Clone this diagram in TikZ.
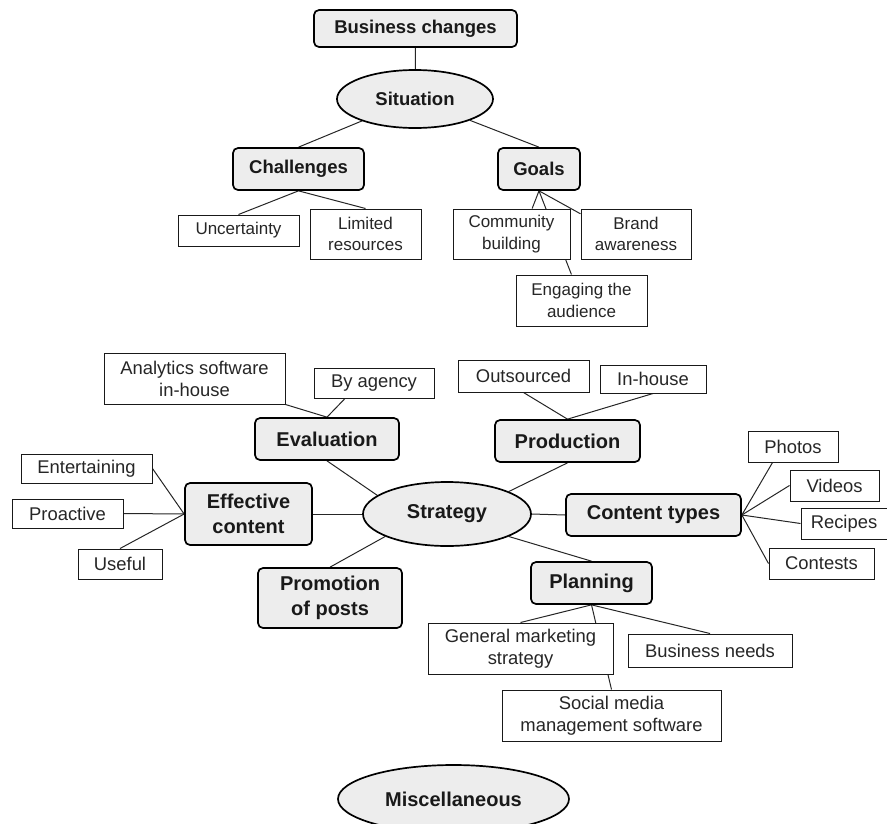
\documentclass[tikz,border=0pt]{standalone}
\usepackage{fontspec}
\setmainfont{Liberation Sans}
\usepackage{tikz}
\usetikzlibrary{shapes,backgrounds}
\definecolor{boxgray}{gray}{0.93}
\newcommand{\leaffont}{\fontsize{18.4}{22}\selectfont}
\newcommand{\leafsmall}{\fontsize{17}{21.5}\selectfont}
\newcommand{\topicfont}{\bfseries\fontsize{20}{24.5}\selectfont}
\newcommand{\topicsmall}{\bfseries\fontsize{18.5}{23}\selectfont}

\begin{document}
\begin{tikzpicture}[x=1pt,y=-1pt]
\tikzstyle{topic}=[rectangle, rounded corners=5pt, line width=1.7pt, draw=black, fill=boxgray, inner sep=0pt, align=center, font=\topicfont, text=black!90]
\tikzstyle{hub}=[ellipse, line width=1.7pt, draw=black, fill=boxgray, inner sep=0pt, font=\topicfont, text=black!90]
\tikzstyle{leaf}=[rectangle, line width=1pt, draw=black!90, fill=white, inner sep=0pt, align=center, font=\leaffont, text=black!85]
\tikzstyle{connect}=[line width=1pt, draw=black!85]
\useasboundingbox (0,0) rectangle (887,823);
	% situation
	\node[topic, font=\topicsmall, minimum width=203, minimum height=37] (bc) at (415.5,28.5) {Business changes};
	\node[hub, font=\topicsmall, minimum width=156, minimum height=58] (sit) at (415,99) {Situation};
	\node[topic, font=\topicsmall, minimum width=131, minimum height=42] (chal) at (298.5,169) {Challenges};
	\node[topic, font=\topicsmall, minimum width=82, minimum height=42] (goal) at (539,169) {Goals};
	\node[leaf, font=\leafsmall, minimum width=121, minimum height=31] (ch_1) at (238.5,230.5) {Uncertainty};
	\node[leaf, font=\leafsmall, minimum width=111, minimum height=50] (ch_2) at (365.5,234) {Limited\\resources};
	\node[leaf, font=\leafsmall, minimum width=117, minimum height=50] (g_1) at (511.5,234) {Community\\building};
	\node[leaf, font=\leafsmall, minimum width=110, minimum height=50] (g_2) at (636,234) {Brand\\awareness};
	\node[leaf, font=\leafsmall, minimum width=131, minimum height=51] (g_3) at (581.5,300.5) {Engaging the\\audience};

	% strategy
	\node[hub, minimum width=168, minimum height=64] (strat) at (447,514) {Strategy};
	\node[topic, minimum width=144, minimum height=42] (eval) at (327,439) {Evaluation};
	\node[leaf, minimum width=181, minimum height=51] (ev_1) at (194.5,378.5) {Analytics software\\in-house};
	\node[leaf, minimum width=120, minimum height=30] (ev_2) at (374,383) {By agency};
	\node[topic, minimum width=127, minimum height=62] (eff) at (248.5,514) {Effective\\content};
	\node[leaf, minimum width=131, minimum height=29] (ef_1) at (86.5,468.5) {Entertaining};
	\node[leaf, minimum width=111, minimum height=29] (ef_2) at (67.5,513.5) {Proactive};
	\node[leaf, minimum width=84, minimum height=30] (ef_3) at (120,564) {Useful};
	\node[topic, minimum width=144, minimum height=60] (promo) at (330,598) {Promotion\\of posts};
	\node[topic, minimum width=145, minimum height=42] (prod) at (567.5,441) {Production};
	\node[leaf, minimum width=131, minimum height=32] (pr_1) at (523.5,376) {Outsourced};
	\node[leaf, minimum width=106, minimum height=28] (pr_2) at (653,379) {In-house};
	\node[topic, minimum width=175, minimum height=42] (ctype) at (653.5,515) {Content types};
	\node[leaf, minimum width=90, minimum height=31] (ct_1) at (793,446.5) {Photos};
	\node[leaf, minimum width=89, minimum height=31] (ct_2) at (834.5,485.5) {Videos};
	\node[leaf, minimum width=86, minimum height=31] (ct_3) at (844,523.5) {Recipes};
	\node[leaf, minimum width=105, minimum height=31] (ct_4) at (821.5,563.5) {Contests};
	\node[topic, minimum width=121, minimum height=42] (plan) at (591.5,583) {Planning};
	\node[leaf, minimum width=185, minimum height=51] (pl_1) at (520.5,648.5) {General marketing\\strategy};
	\node[leaf, minimum width=164, minimum height=33] (pl_2) at (710,650.5) {Business needs};
	\node[leaf, minimum width=219, minimum height=51] (pl_3) at (611.5,715.5) {Social media\\management software};

	\node[hub, minimum width=231, minimum height=68] (misc) at (453.5,799) {Miscellaneous};

	\begin{scope}[on background layer]
	\path[connect]
		(bc.south) edge (sit)
		(sit) edge (chal.north)
		(sit) edge (goal.north)
		(chal.south) edge (ch_1.north)
		(chal.south) edge (ch_2.north)
		(goal.south) edge (g_1.51)
		(goal.south) edge (g_2.160)
		(goal.south) edge (g_3);
	\path[connect]
		(eval.south) edge (strat.165)
		(ev_1.south east) edge (eval.north)
		([xshift=-29]ev_2.south) edge (eval.north)
		(eff.east) edge (strat.west)
		(ef_1.east) edge (eff.west)
		(ef_2.east) edge (eff.west)
		(ef_3.north) edge (eff.west)
		(promo.north) edge (strat.200)
		(prod.south) edge (strat.20)
		(pr_1.south) edge (prod.north)
		(pr_2.south) edge (prod.north)
		(strat.east) edge (ctype.west)
		(ctype.east) edge (ct_1.218)
		(ctype.east) edge (ct_2.west)
		(ctype.east) edge (ct_3.west)
		(ctype.east) edge (ct_4.west)
		(strat.-20) edge (plan.north)
		(plan.south) edge (pl_1.north)
		(plan.south) edge (pl_2.north)
		(plan.south) edge (pl_3.north);
	\end{scope}
\end{tikzpicture}
\end{document}
